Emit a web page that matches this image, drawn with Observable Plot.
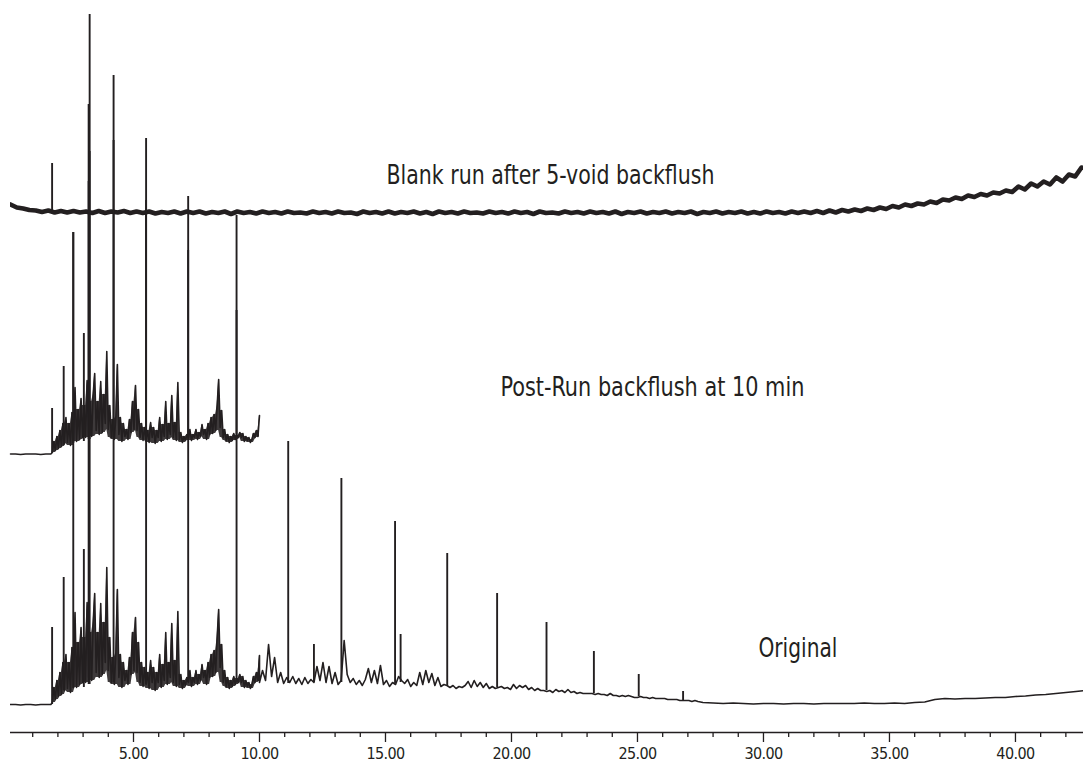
<!DOCTYPE html>
<html><head><meta charset="utf-8">
<script src="https://cdn.jsdelivr.net/npm/d3@7"></script>
<script src="https://cdn.jsdelivr.net/npm/@observablehq/plot@0.6"></script>
<style>
html,body{margin:0;padding:0;background:#fff;}
#chart svg{display:block;}
</style></head><body><div id="chart"></div>
<script>
const FONT = '"Liberation Sans Narrow", "Arial Narrow", "DejaVu Sans Condensed", "Roboto Condensed", sans-serif';
const INK = "#231f20";

// ---- axis ticks (minutes) ----
const majorTicks = [5, 10, 15, 20, 25, 30, 35, 40];
const minorTicks = [1,2,3,4,6,7,8,9,11,12,13,14,16,17,18,19,21,22,23,24,26,27,28,29,31,32,33,34,36,37,38,39,41,42];

// ---- trace vertical offsets (stacking) ----
const traceNames = ["Original", "Post-Run backflush at 10 min", "Blank run after 5-void backflush"];
const traceOffsets = [0, 251, 490];

// ---- Original: segments sampled on time grids (start, step) ----
const origStarts = [0.12, 1.78, 10.0, 27.6];
const origSteps  = [0.2, 0.06, 0.12, 0.4];
const origSeg0 = [28, 28, 27.5, 28, 28, 27.5, 28, 28, 28];
const origSeg1 = [
 30,45,33,52,36,60,38,70,42,78,
 44,70,40,85,46,120,45,90,48,105,
 50,95,50,130,55,100,52,110,139,60,
 100,55,129,58,110,70,165,62,95,50,
 75,48,80,143,55,78,45,70,52,62,
 48,75,58,100,62,115,60,90,50,70,
 46,65,48,60,44,72,50,65,42,60,
 50,78,45,68,52,100,48,70,55,109,
 50,72,46,121,48,58,44,52,47,55,
 50,62,46,55,50,62,48,58,52,68,
 55,62,48,70,55,78,56,82,60,95,
 123,65,88,50,62,46,55,44,52,46,
 56,48,54,50,58,50,56,45,52,46,
 50,44,48,56,50,60,52,77];
const origSeg2 = [
 50,62,52,88,56,75,50,60,49,55,
 50,56,49,54,48,55,49,53,50,66,
 52,70,50,66,49,60,48,52,92,58,
 50,54,48,52,47,53,64,50,62,49,
 67,48,52,46,50,48,56,52,49,53,
 46,50,47,60,48,62,50,59,47,55,
 46,48,47,45,47,44,46,45,47,51,
 45,52,46,50,45,49,44,46,44,45,
 46,44,45,43,48,44,47,45,47,43,
 45,42,44,42,42,41,42,40,43,41,
 42,40,43,40,41,39,40,39,39,39,
 39,38,39,38,38,37,39,37,37,36,
 37,36,37,36,35,35,36,35,35,34,
 35,34,34,34,34,33,33,33,33,32,
 32,32,32,31,32,31];
const origSeg3 = [
 30,29.5,29,29.5,29,28.5,29,29,28.5,29,
 29,28.5,29,29,29,29,29.5,29,29,29.5,
 29,30,30.5,33,34,33.5,34,34,34.5,35,
 35,36,36.5,37.5,38,39,40,41,42];
// Original peaks: retention time, foot, apex
const origPeakT    = [1.77, 2.23, 2.61, 3.03, 3.22, 3.26, 4.21, 5.50, 7.17, 9.09, 11.14, 12.16, 13.25, 15.38, 15.60, 17.45, 19.43, 21.39, 23.27, 25.05, 26.81];
const origPeakBase = [28, 42, 44, 45, 48, 48, 50, 48, 50, 50, 49, 50, 50, 49, 50, 47, 45, 42, 39, 36, 32];
const origPeakTop  = [105, 155, 500, 183, 628, 718, 657, 594, 536, 517, 291, 88, 254, 211, 98, 179, 139, 110, 81, 58, 41];

// ---- Post-Run backflush at 10 min ----
const postStarts = [0.12, 1.78];
const postSteps  = [0.2, 0.06];
const postSeg0 = [27.5, 27.5, 27, 27.5, 27.5, 27.5, 27, 27.5, 27.5];
const postSeg1 = [
 29,40,31,45,33,51,35,58,38,64,
 39,58,36,69,41,94,40,72,42,83,
 44,76,44,101,47,80,45,87,108,51,
 80,47,100,49,87,58,130,52,76,44,
 62,42,65,117,47,64,40,58,45,52,
 42,62,49,80,52,96,51,72,44,58,
 41,54,42,51,39,59,44,54,38,51,
 44,64,40,57,45,80,42,58,47,86,
 44,59,41,99,42,49,39,45,41,47,
 44,52,41,47,44,52,42,49,45,57,
 47,52,42,58,47,64,48,67,51,76,
 102,54,71,44,52,41,47,39,45,41,
 48,42,46,44,49,44,48,40,45,41,
 44,39,42,48,44,51,45,66];
const postPeakT    = [1.77, 2.23, 2.61, 3.03, 3.22, 3.26, 4.21, 5.50, 7.17, 9.09];
const postPeakBase = [28, 36, 38, 40, 42, 42, 44, 42, 44, 44];
const postPeakTop  = [73, 115, 249, 148, 300, 330, 341, 281, 231, 171];

// ---- Blank run after 5-void backflush ----
const blankStart = 0.12, blankStep = 0.25;
const blankValues = [
 38,35,34,32.5,32,30.5,32,30,31.5,30,
 31.5,30,31,29.5,31.5,29.5,31,30,31.5,29.5,
 31,29.5,31,29,30.5,29.5,31,29,31,29.5,
 31,29,30.5,29.5,31,28.5,31,29.5,30.5,29,
 31,29.5,30.5,29,31,29.5,30,29,31,29.5,
 30.5,29,31,29.5,30,28.5,31,29.5,30.5,29,
 31,29,30.5,29.5,31,29,30.5,28.5,31,29.5,
 30.5,29,31,29.5,30,29,31,29.5,30.5,29,
 31,29.5,30.5,28.5,31,29.5,30,29,31,29.5,
 30.5,29,31,29.5,30.5,29,31,28.5,30.5,29.5,
 31,29,30.5,29.5,31,29,30.5,29.5,31,28.5,
 30.5,29.5,31,29,30.5,29.5,31,29,30.5,29,
 31,29.5,30.5,29,31,29.5,31,29.5,31.5,29.5,
 32,30,32.5,31,33,31.5,34,32.5,35,33.5,
 36.5,35,38,36.5,39,38,41,39.5,43,42,
 45,43.5,47,45.5,48.5,47,50,49,52,50.5,
 56,53,59,56,61,58,65,61,68,66,
 75,74];
const blankPeakT = [1.77], blankPeakBase = [31], blankPeakTop = [79];

// ---- trace labels ----
const labelText  = ["Blank run after 5-void backflush", "Post-Run backflush at 10 min", "Original"];
const labelTime  = [15.04, 19.56, 29.80];
const labelLevel = [549, 337, 76];
const labelWidth = [328, 304, 79];

// ---- build tables ----
function segs(starts, steps, arrays, trace) {
  const out = [];
  arrays.forEach((vals, s) => vals.forEach((v, i) => out.push({t: starts[s] + i * steps[s], v, trace})));
  return out;
}
function peaks(T, B, P, trace) { return T.map((t, i) => ({t, base: B[i], top: P[i], trace})); }
// dense part: the unresolved hump is drawn filled between its local minima and local median
function dense(start, step, vals, trace) {
  return vals.map((v, i) => {
    const med = d3.median(vals.slice(Math.max(0, i - 1), i + 2));
    return {t: start + i * step, v, lo: Math.min(...vals.slice(Math.max(0, i - 2), i + 3)), hi: Math.max(v, med), trace};
  });
}

const original = segs(origStarts, origSteps, [origSeg0, origSeg1, origSeg2, origSeg3], 0);
const postrun  = segs(postStarts, postSteps, [postSeg0, postSeg1], 1);
const blank    = segs([blankStart], [blankStep], [blankValues], 2);
const denseBands = [
  ...dense(origStarts[1], origSteps[1], origSeg1, 0),
  ...dense(postStarts[1], postSteps[1], postSeg1, 1)
];
const allPeaks = [
  ...peaks(origPeakT, origPeakBase, origPeakTop, 0),
  ...peaks(postPeakT, postPeakBase, postPeakTop, 1),
  ...peaks(blankPeakT, blankPeakBase, blankPeakTop, 2)
];
const labels = labelText.map((text, i) => ({text, t: labelTime[i], v: labelLevel[i], w: labelWidth[i]}));
const Y = d => d.v + traceOffsets[d.trace];

const chart = Plot.plot({
  width: 1083, height: 763,
  marginLeft: 10, marginRight: 0, marginTop: 0, marginBottom: 31,
  x: {domain: [0.119, 42.70], label: null},
  y: {domain: [0, 732], axis: null},
  style: {background: "white", fontFamily: FONT, fontSize: "16px", color: INK},
  marks: [
    Plot.line(blank, {x: "t", y: Y, stroke: INK, strokeWidth: 4.6, clip: true}),
    Plot.areaY(denseBands, {x: "t", y1: d => d.lo + traceOffsets[d.trace], y2: d => d.hi + traceOffsets[d.trace], z: "trace", fill: INK, fillOpacity: 0.88}),
    Plot.line(postrun, {x: "t", y: Y, stroke: INK, strokeWidth: 1.6}),
    Plot.line(original, {x: "t", y: Y, stroke: INK, strokeWidth: 1.6, clip: true}),
    Plot.ruleX(allPeaks, {x: "t", y1: d => d.base + traceOffsets[d.trace], y2: d => d.top + traceOffsets[d.trace], stroke: INK, strokeWidth: 1.9}),
    Plot.ruleY([0], {stroke: INK, strokeWidth: 1.6}),
    Plot.axisX({ticks: minorTicks, tickSize: 5, tickFormat: () => "", label: null, stroke: INK, strokeWidth: 1.3}),
    Plot.axisX({ticks: majorTicks, tickSize: 10, tickPadding: 5, tickFormat: d => d.toFixed(2), label: null, stroke: INK, fill: INK, strokeWidth: 1.3, fontSize: 16}),
    Plot.text(labels, {x: "t", y: "v", text: "text", textAnchor: "start", lineAnchor: "bottom", fontSize: 27, fill: INK})
  ]
});
// condense the labels to the width they have in the original figure
d3.select(chart).selectAll('g[aria-label="text"] text')
  .each(function(i) {
    const d = labels[i];
    if (d) d3.select(this).attr("textLength", d.w).attr("lengthAdjust", "spacingAndGlyphs");
  });
// condensed tick labels
d3.select(chart).selectAll('g[aria-label="x-axis tick label"] text').style("letter-spacing", "-0.6px");
document.getElementById("chart").appendChild(chart);
</script>
</body></html>
